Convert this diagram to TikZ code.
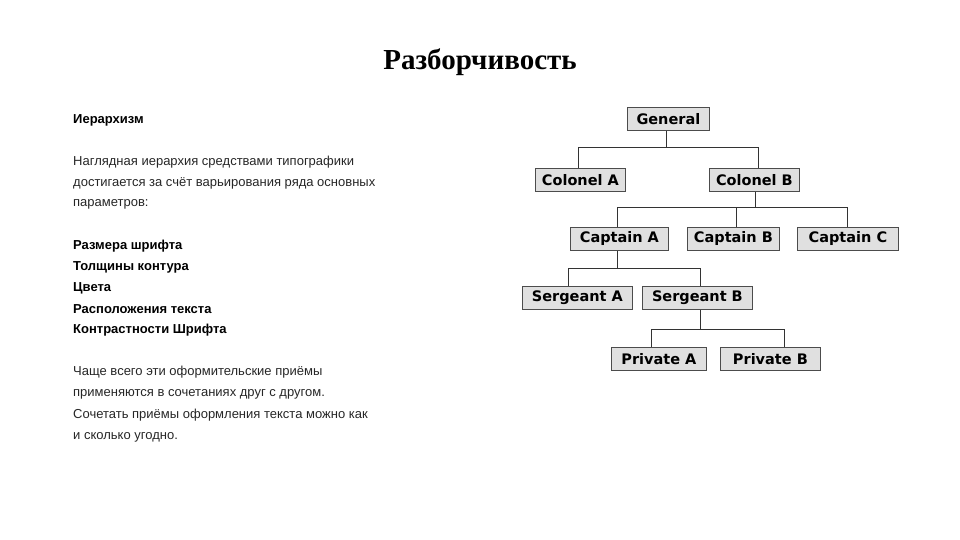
\documentclass[tikz,border=0pt]{standalone}
\usepackage{fontspec}
\setmainfont{Liberation Serif}
\newfontfamily\txt{Liberation Sans}
\newfontfamily\boxf{DejaVu Sans}
\begin{document}
\begin{tikzpicture}[x=1pt,y=-1pt,
  rank/.style={draw=black!70,fill=black!12,line width=0.8pt,font=\boxf\bfseries\fontsize{14.5}{16}\selectfont,minimum height=23pt,inner sep=0pt,anchor=north west},
  conn/.style={draw=black!80,line width=0.7pt},
  lt/.style={anchor=west,font=\txt\fontsize{13}{15}\selectfont,inner sep=0pt,text=black!85},
  bt/.style={lt,font=\txt\bfseries\fontsize{13}{15}\selectfont,text=black}]
\useasboundingbox (0,0) rectangle (960,540);
\node[font=\bfseries\fontsize{29}{32}\selectfont] (title) at (480,62) {Разборчивость};
\node[bt] (h) at (73,120) {Иерархизм};
\node[lt] (p1) at (73,162) {Наглядная иерархия средствами типографики};
\node[lt] (p2) at (73,183) {достигается за счёт варьирования ряда основных};
\node[lt] (p3) at (73,204) {параметров:};
\node[bt] (b1) at (73,246) {Размера шрифта};
\node[bt] (b2) at (73,267) {Толщины контура};
\node[bt] (b3) at (73,288) {Цвета};
\node[bt] (b4) at (73,309) {Расположения текста};
\node[bt] (b5) at (73,330) {Контрастности Шрифта};
\node[lt] (q1) at (73,372) {Чаще всего эти оформительские приёмы};
\node[lt] (q2) at (73,394) {применяются в сочетаниях друг с другом.};
\node[lt] (q3) at (73,415) {Сочетать приёмы оформления текста можно как};
\node[lt] (q4) at (73,437) {и сколько угодно.};

\node[rank,minimum width=82pt] (gen) at (627,107) {General};
\node[rank,minimum width=90pt] (ca) at (535,168) {Colonel A};
\node[rank,minimum width=90pt] (cb) at (709,168) {Colonel B};
\node[rank,minimum width=98pt] (pa) at (570,227) {Captain A};
\node[rank,minimum width=92pt] (pb) at (687,227) {Captain B};
\node[rank,minimum width=101pt] (pc) at (797,227) {Captain C};
\node[rank,minimum width=110pt] (sa) at (522,286) {Sergeant A};
\node[rank,minimum width=110pt] (sb) at (642,286) {Sergeant B};
\node[rank,minimum width=95pt] (va) at (611,347) {Private A};
\node[rank,minimum width=100pt] (vb) at (720,347) {Private B};

\coordinate (j1) at (666,147);
\coordinate (j2) at (755,207);
\coordinate (j3) at (617,268);
\coordinate (j4) at (700,329);
\draw[conn] (gen.south -| j1) -- (j1);
\draw[conn] (j1) -| (ca.north -| 578,0);
\draw[conn] (j1) -| (cb.north -| 758,0);
\draw[conn] (cb.south -| j2) -- (j2);
\draw[conn] (j2) -| (pa.north -| 617,0);
\draw[conn] (j2) -| (pb.north -| 736,0);
\draw[conn] (j2) -| (pc.north -| 847,0);
\draw[conn] (pa.south -| j3) -- (j3);
\draw[conn] (j3) -| (sa.north -| 568,0);
\draw[conn] (j3) -| (sb.north -| 700,0);
\draw[conn] (sb.south -| j4) -- (j4);
\draw[conn] (j4) -| (va.north -| 651,0);
\draw[conn] (j4) -| (vb.north -| 784,0);
\end{tikzpicture}
\end{document}
